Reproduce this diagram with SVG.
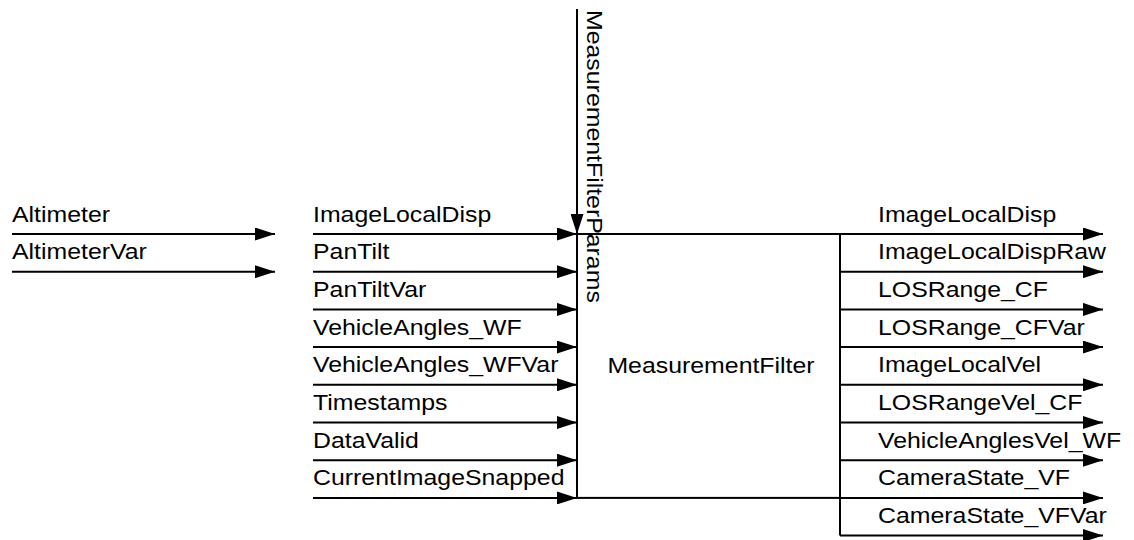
<svg xmlns="http://www.w3.org/2000/svg" width="1134" height="540" viewBox="0 0 1134 540">
<style>
.t{font-family:"Liberation Sans",Arial,Helvetica,sans-serif;font-size:22px;fill:#000}
.c{fill:none;stroke:#000;stroke-width:2}
.a{fill:none;stroke:#000;stroke-width:2;marker-end:url(#ah)}
.b{fill:none;stroke:#000;stroke-width:2}
</style>
<defs>
<marker id="ah" viewBox="0 0 20 13" refX="20" refY="6.5" markerWidth="20" markerHeight="13" markerUnits="userSpaceOnUse" orient="auto">
<path d="M0,0 L20,6.5 L0,13 z" fill="#000"/>
</marker>
</defs>
<rect width="1134" height="540" fill="#fff"/>
<g id="connectors">
<line class="a" x1="12" y1="234" x2="275" y2="234"/>
<line class="a" x1="12" y1="271.7" x2="275" y2="271.7"/>
<line class="a" x1="577" y1="9" x2="577" y2="234"/>
<line class="a" x1="313" y1="234" x2="577" y2="234"/>
<line class="a" x1="313" y1="271.7" x2="577" y2="271.7"/>
<line class="a" x1="313" y1="309.4" x2="577" y2="309.4"/>
<line class="a" x1="313" y1="347.1" x2="577" y2="347.1"/>
<line class="a" x1="313" y1="384.8" x2="577" y2="384.8"/>
<line class="a" x1="313" y1="422.5" x2="577" y2="422.5"/>
<line class="a" x1="313" y1="460.2" x2="577" y2="460.2"/>
<line class="a" x1="313" y1="497.9" x2="577" y2="497.9"/>
<line class="c" x1="840" y1="234" x2="840" y2="535.6"/>
<line class="a" x1="840" y1="234" x2="1103" y2="234"/>
<line class="a" x1="840" y1="271.7" x2="1103" y2="271.7"/>
<line class="a" x1="840" y1="309.4" x2="1103" y2="309.4"/>
<line class="a" x1="840" y1="347.1" x2="1103" y2="347.1"/>
<line class="a" x1="840" y1="384.8" x2="1103" y2="384.8"/>
<line class="a" x1="840" y1="422.5" x2="1103" y2="422.5"/>
<line class="a" x1="840" y1="460.2" x2="1103" y2="460.2"/>
<line class="a" x1="840" y1="497.9" x2="1103" y2="497.9"/>
<line class="a" x1="840" y1="535.6" x2="1103" y2="535.6"/>
</g>
<g id="MeasurementFilter">
<rect class="b" x="577" y="234" width="263" height="263.9"/>
<text class="t" text-anchor="middle" transform="translate(711,373) scale(1.13,1)">MeasurementFilter</text>
</g>
<g id="in-labels">
<text class="t" transform="translate(12,221.5) scale(1.13,1)">Altimeter</text>
<text class="t" transform="translate(12,259.2) scale(1.13,1)">AltimeterVar</text>
<text class="t" transform="translate(587,10) rotate(90) scale(1.13,1)">MeasurementFilterParams</text>
<text class="t" transform="translate(313,221.5) scale(1.13,1)">ImageLocalDisp</text>
<text class="t" transform="translate(313,259.2) scale(1.13,1)">PanTilt</text>
<text class="t" transform="translate(313,296.9) scale(1.13,1)">PanTiltVar</text>
<text class="t" transform="translate(313,334.6) scale(1.13,1)">VehicleAngles_WF</text>
<text class="t" transform="translate(313,372.3) scale(1.13,1)">VehicleAngles_WFVar</text>
<text class="t" transform="translate(313,410) scale(1.13,1)">Timestamps</text>
<text class="t" transform="translate(313,447.7) scale(1.13,1)">DataValid</text>
<text class="t" transform="translate(313,485.4) scale(1.13,1)">CurrentImageSnapped</text>
</g>
<g id="out-labels">
<text class="t" transform="translate(878,221.5) scale(1.13,1)">ImageLocalDisp</text>
<text class="t" transform="translate(878,259.2) scale(1.13,1)">ImageLocalDispRaw</text>
<text class="t" transform="translate(878,296.9) scale(1.13,1)">LOSRange_CF</text>
<text class="t" transform="translate(878,334.6) scale(1.13,1)">LOSRange_CFVar</text>
<text class="t" transform="translate(878,372.3) scale(1.13,1)">ImageLocalVel</text>
<text class="t" transform="translate(878,410) scale(1.13,1)">LOSRangeVel_CF</text>
<text class="t" transform="translate(878,447.7) scale(1.13,1)">VehicleAnglesVel_WF</text>
<text class="t" transform="translate(878,485.4) scale(1.13,1)">CameraState_VF</text>
<text class="t" transform="translate(878,523.1) scale(1.13,1)">CameraState_VFVar</text>
</g>
</svg>
